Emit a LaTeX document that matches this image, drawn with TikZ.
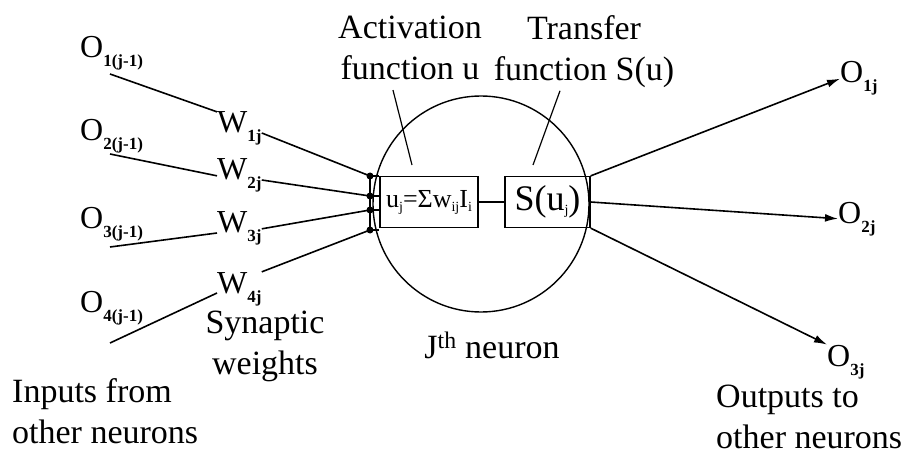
\documentclass[tikz,border=0pt]{standalone}
\usepackage{fontspec}
\setmainfont{Liberation Serif}
\usetikzlibrary{arrows.meta,calc}
\newcommand\lowsub[1]{\raisebox{-9pt}{\fontsize{17}{17}\selectfont\bfseries #1}}
\newcommand\boxsub[1]{\raisebox{-4pt}{\fontsize{14}{14}\selectfont #1}}

\begin{document}
\begin{tikzpicture}[x=1pt,y=-1pt,>={Latex[length=13pt,width=8pt]},
  sym/.style={inner sep=0pt,font=\fontsize{32}{32}\selectfont},
  lbl/.style={inner sep=0pt,align=center,font=\fontsize{34}{41}\selectfont},
  wire/.style={line width=1.6pt},
  thin wire/.style={line width=1.2pt},
  funcbox/.style={draw,line width=1.2pt,minimum height=51pt,inner sep=0pt}]
  \useasboundingbox (0,0) rectangle (915,457);
  % neuron body and its two functions
  \node[circle,draw,line width=1.4pt,minimum size=216pt] (cell) at (481,204) {};
  \node[funcbox,minimum width=98pt,font=\fontsize{26}{26}\selectfont] (sum) at (429,202)
    {u\boxsub{j}=Σw\boxsub{ij}I\boxsub{i}};
  \node[funcbox,minimum width=85pt,font=\fontsize{36}{36}\selectfont] (tf) at (547.5,202)
    {S(u\boxsub{j})};
  \draw[thin wire] (sum) -- (tf);
  % inputs and weights
  \foreach \i/\y in {1/58,2/141,3/229,4/312}
    \node[sym,anchor=base west] (o\i) at (80,\y) {O\lowsub{\i(j-1)}};
  \foreach \i/\y in {1/133,2/180,3/233,4/293}
    \node[sym,anchor=base west] (w\i) at (217,\y) {W\lowsub{\i j}};
  \foreach \i/\y in {1/176,2/196,3/210,4/230}
    \fill (370,\y) coordinate (d\i) circle (3.5pt);
  \foreach \i/\y/\a in {1/74/north west,2/154/west,3/247/base west,4/343/base west}
    \draw[wire] (110,\y) coordinate (s\i) -- (w\i.\a);
  \foreach \i/\a in {1/base east,2/base east,3/east,4/north east}
    \draw[wire] (w\i.\a) -- (d\i);
  \draw[thin wire] (d1) -- (d4);
  \foreach \i in {1,...,4}
    \draw[thin wire] (d\i) -- (d\i -| sum.west);
  % outputs
  \foreach \i/\x/\y in {1/840/83,2/838/223,3/827/366}
    \node[sym,anchor=base west] (out\i) at (\x,\y) {O\lowsub{\i j}};
  \draw[wire,->] (tf.north east) -- (out1.west);
  \draw[wire,->] (tf.east) -- (out2.west);
  \draw[wire,->] (tf.south east) -- (out3.north west);
  % labels
  \node[lbl] (actlbl) at (410,48) {Activation\\function u};
  \node[lbl] (trflbl) at (584,51.5) {Transfer\\function S(u)};
  \coordinate (p1) at (412,165);
  \coordinate (p2) at (533,165);
  \draw[thin wire] ($(actlbl.south)+(-17,10)$) -- (p1);
  \draw[thin wire] ($(trflbl.south)+(-24,3)$) -- (p2);
  \node[lbl] (synlbl) at (265,346) {Synaptic\\weights};
  \node[lbl,align=left,anchor=west] (inlbl) at (12,411) {Inputs from\\other neurons};
  \node[lbl,align=left,anchor=west] (outlbl) at (716,417) {Outputs to\\other neurons};
  \node[lbl,anchor=base] (jlbl) at (492,358) {J\textsuperscript{th} neuron};
\end{tikzpicture}
\end{document}
